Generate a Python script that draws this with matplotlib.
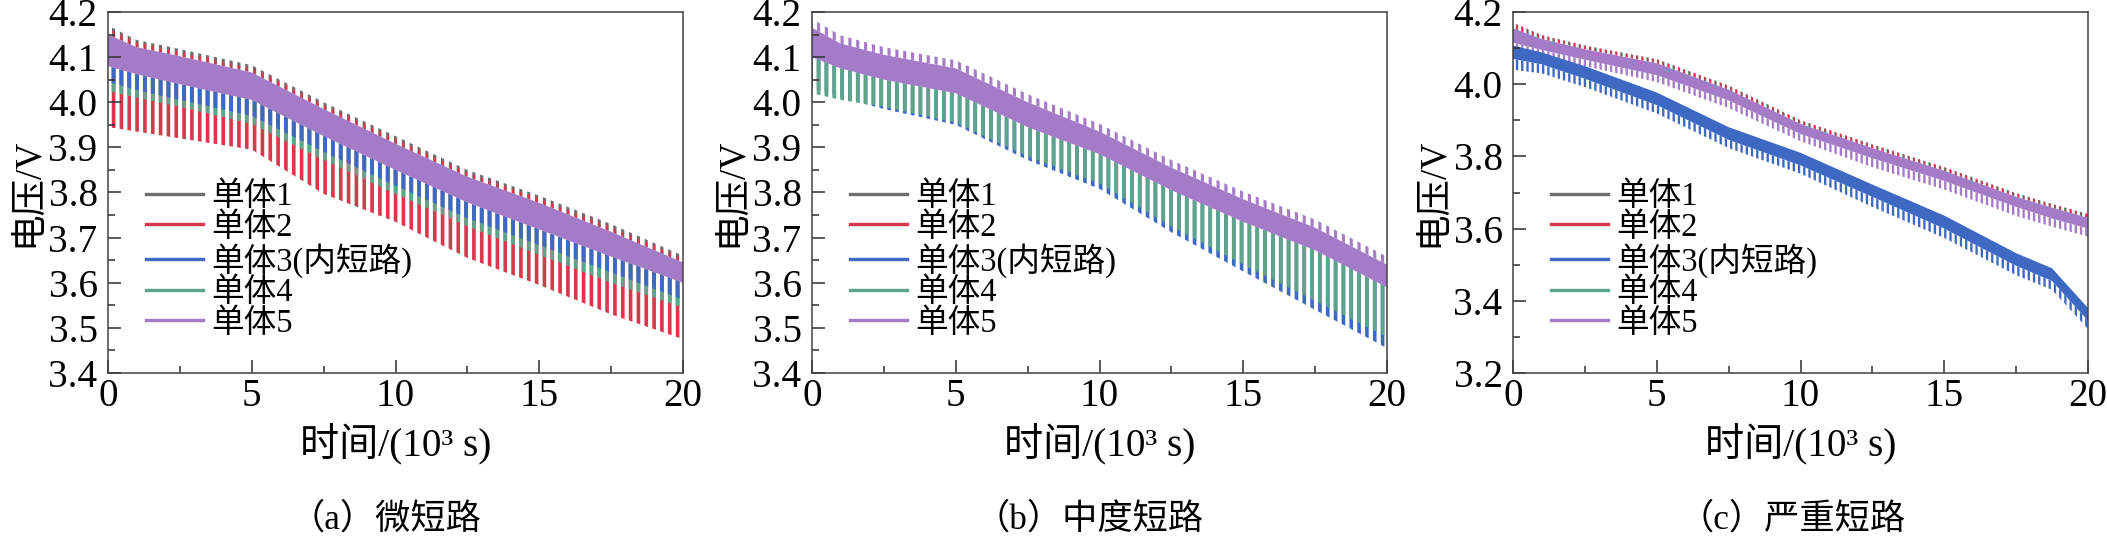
import matplotlib
matplotlib.use("Agg")
import matplotlib.pyplot as plt
from matplotlib.ticker import MultipleLocator, FormatStrFormatter
from matplotlib.lines import Line2D

# ---------------- data (time in 10^3 s, voltage in V) ----------------
labels = ["单体1", "单体2", "单体3(内短路)", "单体4", "单体5"]
colors = ["#6e6e6e", "#d8374c", "#3d69c2", "#5ea488", "#a47bc6"]
captions = ["（a）微短路", "（b）中度短路", "（c）严重短路"]

# (a) micro short circuit
t_a = [0, 1, 2.5, 5, 7.5, 10, 12.5, 15, 17.5, 20]
a_tip      = [4.170, 4.138, 4.118, 4.082, 4.000, 3.925, 3.850, 3.793, 3.730, 3.660]
a_core_top = [4.150, 4.122, 4.102, 4.066, 3.985, 3.908, 3.835, 3.777, 3.713, 3.645]
a_core_bot = [4.080, 4.062, 4.040, 4.005, 3.925, 3.850, 3.778, 3.718, 3.658, 3.600]
a_blue_lo  = [4.045, 4.027, 4.005, 3.970, 3.890, 3.815, 3.743, 3.683, 3.623, 3.562]
a_green_lo = [4.025, 4.010, 3.990, 3.952, 3.872, 3.797, 3.725, 3.662, 3.600, 3.545]
a_red_lo   = [3.945, 3.935, 3.920, 3.895, 3.797, 3.735, 3.655, 3.595, 3.530, 3.475]

# (b) moderate short circuit
t_b = [0, 1, 2.5, 5, 7.5, 10, 12.5, 15, 17.5, 20]
b_tip      = [4.185, 4.148, 4.122, 4.093, 4.018, 3.952, 3.872, 3.802, 3.740, 3.658]
b_core_top = [4.165, 4.130, 4.105, 4.075, 4.000, 3.935, 3.855, 3.785, 3.722, 3.640]
b_core_bot = [4.100, 4.075, 4.050, 4.020, 3.945, 3.885, 3.805, 3.735, 3.672, 3.590]
b_green_lo = [4.020, 4.005, 3.990, 3.955, 3.880, 3.820, 3.725, 3.640, 3.560, 3.480]
b_blue_lo  = [4.030, 4.010, 3.985, 3.950, 3.872, 3.808, 3.712, 3.625, 3.540, 3.455]

# (c) severe short circuit
t_c = [0, 1, 2.5, 5, 7.5, 10, 12.5, 15, 17.5, 18.75, 20]
c_top      = [4.170, 4.136, 4.107, 4.069, 3.996, 3.900, 3.833, 3.770, 3.698, 3.668, 3.640]
c_core_top = [4.155, 4.125, 4.097, 4.058, 3.985, 3.890, 3.823, 3.760, 3.688, 3.658, 3.630]
c_core_bot = [4.115, 4.095, 4.068, 4.025, 3.955, 3.862, 3.795, 3.732, 3.660, 3.628, 3.600]
c_dip_lo   = [4.098, 4.078, 4.050, 4.006, 3.934, 3.842, 3.770, 3.708, 3.635, 3.605, 3.578]
c3_top     = [4.107, 4.088, 4.050, 3.977, 3.881, 3.810, 3.722, 3.636, 3.532, 3.490, 3.380]
c3_core_bot = [4.070, 4.055, 4.015, 3.942, 3.846, 3.775, 3.688, 3.600, 3.497, 3.455, 3.345]
c3_dip_lo  = [4.040, 4.030, 3.992, 3.919, 3.823, 3.752, 3.660, 3.574, 3.471, 3.430, 3.322]

# ---------------- style ----------------
DPI = 94
W, H = 2107, 545
plt.rcParams["font.family"] = ["Liberation Serif", "Noto Sans CJK SC"]
plt.rcParams["axes.unicode_minus"] = False

fig = plt.figure(figsize=(W / DPI, H / DPI), dpi=DPI)

ax_left_px = [108, 812, 1513]
ax_w_px = 575
ax_top_px, ax_bot_px = 12, 373
axes = []
for lp in ax_left_px:
    ax = fig.add_axes([lp / W, 1 - ax_bot_px / H, ax_w_px / W, (ax_bot_px - ax_top_px) / H])
    axes.append(ax)


def band(ax, t, lo, hi, color, hatch=None, hlw=2.0):
    if hatch is None:
        return ax.fill_between(t, lo, hi, facecolor=color, edgecolor="none", linewidth=0)
    plt.rcParams["hatch.linewidth"] = hlw
    coll = ax.fill_between(t, lo, hi, facecolor="none", edgecolor=color,
                           hatch=hatch, linewidth=0)
    if hasattr(coll, "set_hatch_linewidth"):
        try:
            coll.set_hatch_linewidth(hlw)
        except Exception:
            pass
    return coll


gray, red, blue, green, purple = colors

# (a)
ax = axes[0]
band(ax, t_a, a_core_top, a_tip, gray, "||", 2.4)
band(ax, t_a, a_core_top, [v - 0.006 for v in a_tip], red, "||", 1.8)
band(ax, t_a, a_red_lo, a_core_bot, red, "||", 2.8)
band(ax, t_a, a_green_lo, a_core_bot, green, "||", 2.8)
band(ax, t_a, a_blue_lo, a_core_bot, blue, "||", 3.0)
band(ax, t_a, a_core_bot, a_core_top, purple)

# (b)
ax = axes[1]
band(ax, t_b, b_core_top, b_tip, purple, "||", 2.4)
band(ax, t_b, b_blue_lo, b_core_bot, blue, "||", 2.8)
band(ax, t_b, b_green_lo, b_core_bot, green, "||", 2.8)
band(ax, t_b, b_core_bot, b_core_top, purple)

# (c)
ax = axes[2]
band(ax, t_c, c_core_top, c_top, gray, "|||", 1.8)
band(ax, t_c, c_core_top, c_top, red, "|||", 1.0)
band(ax, t_c, c_dip_lo, c_core_bot, purple, "|||", 1.8)
band(ax, t_c, c_core_bot, c_core_top, purple)
band(ax, t_c, c3_dip_lo, c3_core_bot, blue, "|||", 1.8)
band(ax, t_c, c3_core_bot, c3_top, blue)

ylims = [(3.4, 4.2), (3.4, 4.2), (3.2, 4.2)]
ymaj = [0.1, 0.1, 0.2]
ymin = [0.05, 0.05, 0.1]
handles = [Line2D([], [], color=c, lw=2.6) for c in colors]

for i, ax in enumerate(axes):
    ax.set_xlim(0, 20)
    ax.set_ylim(*ylims[i])
    ax.xaxis.set_major_locator(MultipleLocator(5))
    ax.xaxis.set_minor_locator(MultipleLocator(2.5))
    ax.yaxis.set_major_locator(MultipleLocator(ymaj[i]))
    ax.yaxis.set_minor_locator(MultipleLocator(ymin[i]))
    ax.yaxis.set_major_formatter(FormatStrFormatter("%.1f"))
    ax.xaxis.set_major_formatter(FormatStrFormatter("%d"))
    ax.tick_params(which="both", direction="in", top=False, right=False,
                   width=1.2, color="#333333", labelsize=30)
    ax.tick_params(which="major", length=10)
    ax.tick_params(which="minor", length=5)
    ax.tick_params(axis="x", pad=3.5)
    ax.tick_params(axis="y", pad=8)
    for s in ax.spines.values():
        s.set_linewidth(1.2)
        s.set_color("#444444")
    ax.set_xlabel("时间/(10³ s)", fontsize=30, va="center")
    ax.xaxis.set_label_coords(0.5, (ax_bot_px - 445) / (ax_bot_px - ax_top_px))
    ax.set_ylabel("电压/V", fontsize=28, va="center")
    ax.yaxis.set_label_coords(-80 / ax_w_px, 0.5)
    ax.legend(handles, labels, loc="center left",
              bbox_to_anchor=(0.066, 0.3125), frameon=False, fontsize=25,
              handlelength=1.75, handletextpad=0.25, labelspacing=0.0,
              borderpad=0, borderaxespad=0)

cap_x = [385, 1089, 1792]
for cx, cap in zip(cap_x, captions):
    fig.text(cx / W, 1 - 520 / H, cap, ha="center", va="center", fontsize=27)

fig.savefig("out.png", dpi=DPI)
